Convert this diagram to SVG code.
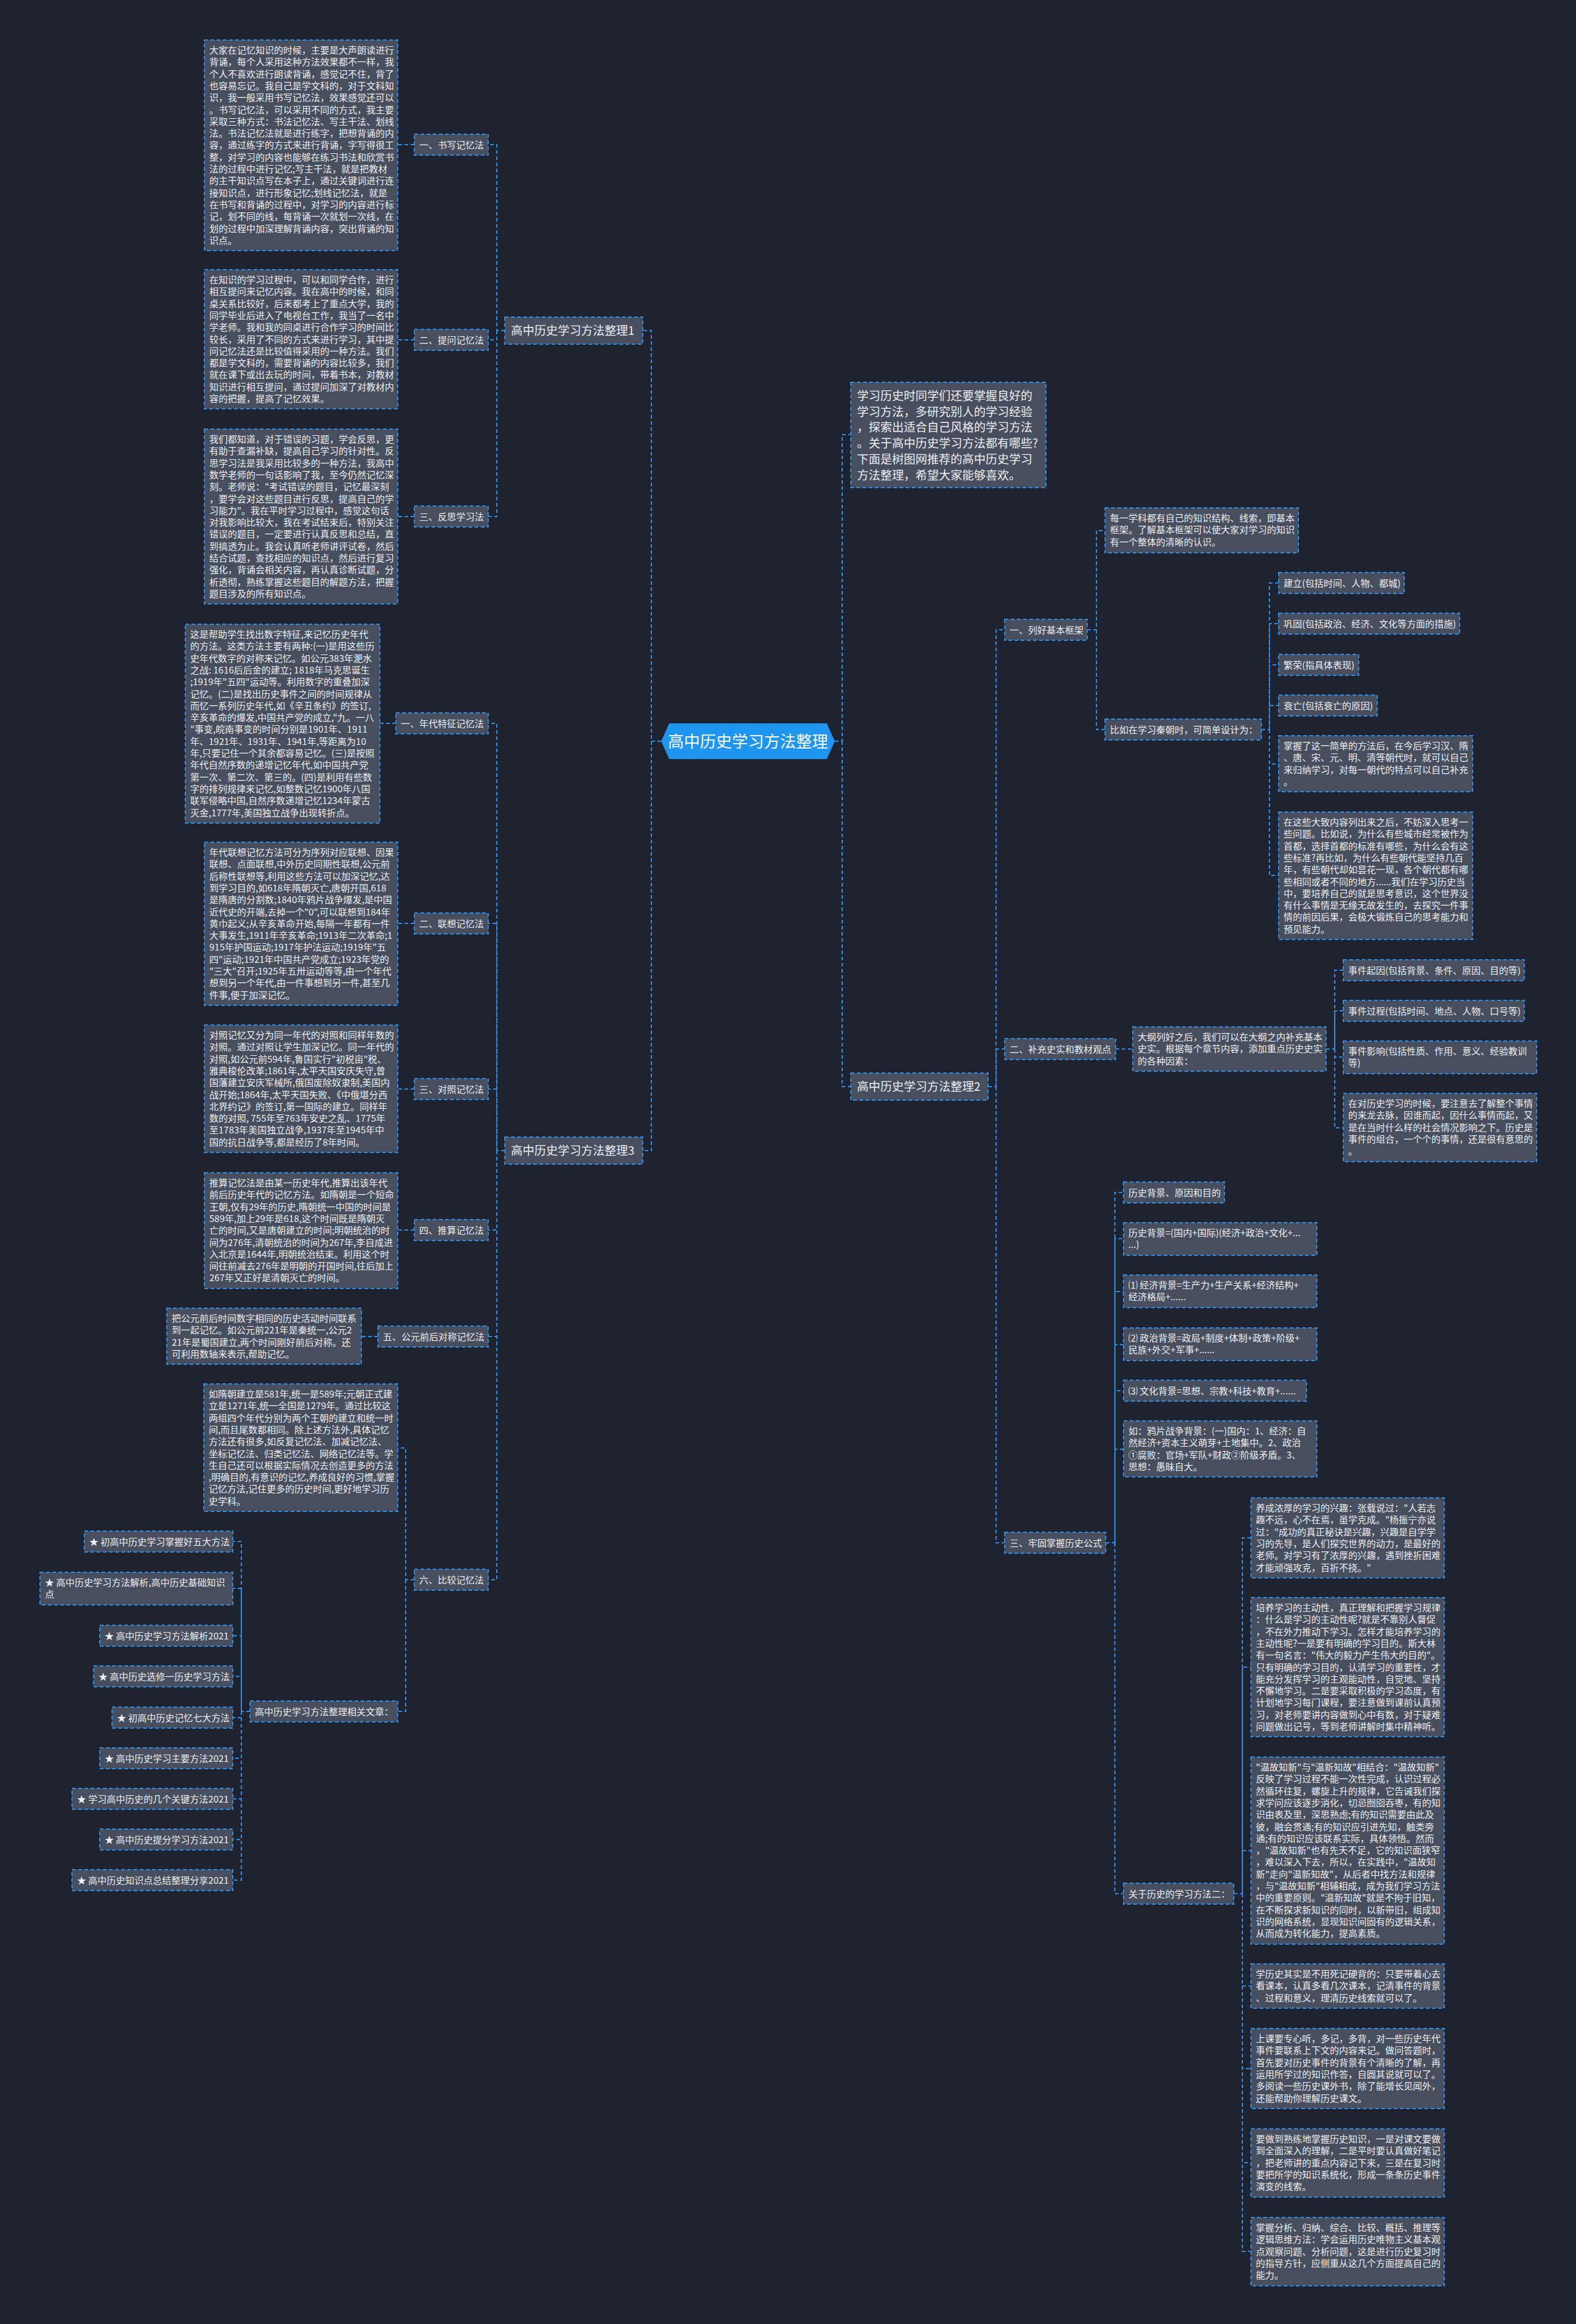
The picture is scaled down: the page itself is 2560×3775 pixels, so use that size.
<svg xmlns="http://www.w3.org/2000/svg" width="2560" height="3775" viewBox="0 0 2560 3775">
<style>
.bg{fill:#1f2330}
.n{fill:#474f5f;stroke:#2b8de4;stroke-width:2;stroke-dasharray:6 4}
.t{font-family:"Noto Sans CJK SC","Microsoft YaHei",sans-serif;font-size:15px;fill:#eef0f3}
.tb{font-family:"Noto Sans CJK SC","Microsoft YaHei",sans-serif;font-size:19px;fill:#eef0f3}
.tc{font-family:"Noto Sans CJK SC","Microsoft YaHei",sans-serif;font-size:26px;fill:#ffffff}
.c{fill:none;stroke:#2b8de4;stroke-width:2;stroke-dasharray:6 4}
</style>
<rect class="bg" x="0" y="0" width="2560" height="3775"/>
<g id="connectors">
<path class="c" d="M1074 1204 H1058 V537 H1044"/>
<path class="c" d="M1058 1204 V1869 H1044"/>
<path class="c" d="M1356 1204 H1368 V706 H1382"/>
<path class="c" d="M1368 1204 V1765 H1382"/>
<path class="c" d="M820 537 H807 V235 H793"/>
<path class="c" d="M807 537 V552 H793"/>
<path class="c" d="M807 537 V839 H793"/>
<path class="c" d="M673 235 H646"/>
<path class="c" d="M673 552 H646"/>
<path class="c" d="M673 839 H646"/>
<path class="c" d="M820 1869 H807 V1175 H793"/>
<path class="c" d="M807 1869 V1500 H793"/>
<path class="c" d="M807 1869 V1769 H793"/>
<path class="c" d="M807 1869 V1998 H793"/>
<path class="c" d="M807 1869 V2171 H793"/>
<path class="c" d="M807 1869 V2566 H793"/>
<path class="c" d="M643 1175 H617"/>
<path class="c" d="M673 1500 H646"/>
<path class="c" d="M673 1769 H646"/>
<path class="c" d="M673 1998 H646"/>
<path class="c" d="M614 2171 H587"/>
<path class="c" d="M673 2566 H659 V2352 H646"/>
<path class="c" d="M659 2566 V2780 H646"/>
<path class="c" d="M406 2780 H392 V2504 H378"/>
<path class="c" d="M392 2780 V2580 H378"/>
<path class="c" d="M392 2780 V2657 H378"/>
<path class="c" d="M392 2780 V2723 H378"/>
<path class="c" d="M392 2780 V2790 H378"/>
<path class="c" d="M392 2780 V2856 H378"/>
<path class="c" d="M392 2780 V2922 H378"/>
<path class="c" d="M392 2780 V2988 H378"/>
<path class="c" d="M392 2780 V3054 H378"/>
<path class="c" d="M1605 1765 H1618 V1023 H1632"/>
<path class="c" d="M1618 1765 V1704 H1632"/>
<path class="c" d="M1618 1765 V2506 H1632"/>
<path class="c" d="M1766 1023 H1781 V862 H1795"/>
<path class="c" d="M1781 1023 V1185 H1795"/>
<path class="c" d="M2049 1185 H2062 V947 H2077"/>
<path class="c" d="M2062 1185 V1013 H2077"/>
<path class="c" d="M2062 1185 V1080 H2077"/>
<path class="c" d="M2062 1185 V1146 H2077"/>
<path class="c" d="M2062 1185 V1241 H2077"/>
<path class="c" d="M2062 1185 V1422 H2077"/>
<path class="c" d="M1812 1704 H1840"/>
<path class="c" d="M2154 1704 H2168 V1576 H2182"/>
<path class="c" d="M2168 1704 V1642 H2182"/>
<path class="c" d="M2168 1704 V1717 H2182"/>
<path class="c" d="M2168 1704 V1832 H2182"/>
<path class="c" d="M1796 2506 H1811 V1937 H1825"/>
<path class="c" d="M1811 2506 V2012 H1825"/>
<path class="c" d="M1811 2506 V2098 H1825"/>
<path class="c" d="M1811 2506 V2184 H1825"/>
<path class="c" d="M1811 2506 V2259 H1825"/>
<path class="c" d="M1811 2506 V2354 H1825"/>
<path class="c" d="M1811 2506 V3076 H1825"/>
<path class="c" d="M2004 3076 H2018 V2498 H2032"/>
<path class="c" d="M2018 3076 V2708 H2032"/>
<path class="c" d="M2018 3076 V3006 H2032"/>
<path class="c" d="M2018 3076 V3226 H2032"/>
<path class="c" d="M2018 3076 V3360 H2032"/>
<path class="c" d="M2018 3076 V3513 H2032"/>
<path class="c" d="M2018 3076 V3657 H2032"/>
</g>

<g id="n-center">
<polygon points="1074,1204 1087,1175 1343,1175 1356,1204 1343,1233 1087,1233" fill="#1e95ef"/>
<text class="tc" x="1215" y="1214" text-anchor="middle">高中历史学习方法整理</text>
</g>

<g id="n-intro">
<rect class="n" x="1382" y="621" width="317" height="171"/>
<text class="tb" x="1392" y="650"><tspan x="1392" dy="0">学习历史时同学们还要掌握良好的</tspan><tspan x="1392" dy="25.7">学习方法，多研究别人的学习经验</tspan><tspan x="1392" dy="25.7">，探索出适合自己风格的学习方法</tspan><tspan x="1392" dy="25.7">。关于高中历史学习方法都有哪些?</tspan><tspan x="1392" dy="25.7">下面是树图网推荐的高中历史学习</tspan><tspan x="1392" dy="25.7">方法整理，希望大家能够喜欢。</tspan></text>
</g>

<g id="n-b1"><rect class="n" x="820" y="515" width="224" height="44"/><text class="tb" x="830" y="544">高中历史学习方法整理1</text></g>
<g id="n-b2"><rect class="n" x="1382" y="1743" width="223" height="44"/><text class="tb" x="1392" y="1772">高中历史学习方法整理2</text></g>
<g id="n-b3"><rect class="n" x="820" y="1847" width="224" height="44"/><text class="tb" x="830" y="1876">高中历史学习方法整理3</text></g>

<g id="n-l1-1"><rect class="n" x="673" y="218" width="120" height="34"/><text class="t" x="681" y="240.5">一、书写记忆法</text></g>
<g id="n-l1-2"><rect class="n" x="673" y="535" width="120" height="34"/><text class="t" x="681" y="557.5">二、提问记忆法</text></g>
<g id="n-l1-3"><rect class="n" x="673" y="822" width="120" height="34"/><text class="t" x="681" y="844.5">三、反思学习法</text></g>

<g id="n-l1-1t">
<rect class="n" x="332" y="65" width="314" height="342"/>
<text class="t" x="340" y="87"><tspan x="340" dy="0">大家在记忆知识的时候，主要是大声朗读进行</tspan><tspan x="340" dy="19.3">背诵，每个人采用这种方法效果都不一样，我</tspan><tspan x="340" dy="19.3">个人不喜欢进行朗读背诵，感觉记不住，背了</tspan><tspan x="340" dy="19.3">也容易忘记。我自己是学文科的，对于文科知</tspan><tspan x="340" dy="19.3">识，我一般采用书写记忆法，效果感觉还可以</tspan><tspan x="340" dy="19.3">。书写记忆法，可以采用不同的方式，我主要</tspan><tspan x="340" dy="19.3">采取三种方式：书法记忆法、写主干法、划线</tspan><tspan x="340" dy="19.3">法。书法记忆法就是进行练字，把想背诵的内</tspan><tspan x="340" dy="19.3">容，通过练字的方式来进行背诵，字写得很工</tspan><tspan x="340" dy="19.3">整，对学习的内容也能够在练习书法和欣赏书</tspan><tspan x="340" dy="19.3">法的过程中进行记忆;写主干法，就是把教材</tspan><tspan x="340" dy="19.3">的主干知识点写在本子上，通过关键词进行连</tspan><tspan x="340" dy="19.3">接知识点，进行形象记忆;划线记忆法，就是</tspan><tspan x="340" dy="19.3">在书写和背诵的过程中，对学习的内容进行标</tspan><tspan x="340" dy="19.3">记，划不同的线，每背诵一次就划一次线，在</tspan><tspan x="340" dy="19.3">划的过程中加深理解背诵内容，突出背诵的知</tspan><tspan x="340" dy="19.3">识点。</tspan></text>
</g>

<g id="n-l1-2t">
<rect class="n" x="332" y="438" width="314" height="226"/>
<text class="t" x="340" y="460"><tspan x="340" dy="0">在知识的学习过程中，可以和同学合作，进行</tspan><tspan x="340" dy="19.3">相互提问来记忆内容。我在高中的时候，和同</tspan><tspan x="340" dy="19.3">桌关系比较好，后来都考上了重点大学，我的</tspan><tspan x="340" dy="19.3">同学毕业后进入了电视台工作，我当了一名中</tspan><tspan x="340" dy="19.3">学老师。我和我的同桌进行合作学习的时间比</tspan><tspan x="340" dy="19.3">较长，采用了不同的方式来进行学习，其中提</tspan><tspan x="340" dy="19.3">问记忆法还是比较值得采用的一种方法。我们</tspan><tspan x="340" dy="19.3">都是学文科的，需要背诵的内容比较多，我们</tspan><tspan x="340" dy="19.3">就在课下或出去玩的时间，带着书本，对教材</tspan><tspan x="340" dy="19.3">知识进行相互提问，通过提问加深了对教材内</tspan><tspan x="340" dy="19.3">容的把握，提高了记忆效果。</tspan></text>
</g>

<g id="n-l1-3t">
<rect class="n" x="332" y="697" width="314" height="284"/>
<text class="t" x="340" y="719"><tspan x="340" dy="0">我们都知道，对于错误的习题，学会反思，更</tspan><tspan x="340" dy="19.3">有助于查漏补缺，提高自己学习的针对性。反</tspan><tspan x="340" dy="19.3">思学习法是我采用比较多的一种方法，我高中</tspan><tspan x="340" dy="19.3">数学老师的一句话影响了我，至今仍然记忆深</tspan><tspan x="340" dy="19.3">刻。老师说："考试错误的题目，记忆最深刻</tspan><tspan x="340" dy="19.3">，要学会对这些题目进行反思，提高自己的学</tspan><tspan x="340" dy="19.3">习能力"。我在平时学习过程中，感觉这句话</tspan><tspan x="340" dy="19.3">对我影响比较大，我在考试结束后，特别关注</tspan><tspan x="340" dy="19.3">错误的题目，一定要进行认真反思和总结，直</tspan><tspan x="340" dy="19.3">到搞透为止。我会认真听老师讲评试卷，然后</tspan><tspan x="340" dy="19.3">结合试题，查找相应的知识点，然后进行复习</tspan><tspan x="340" dy="19.3">强化，背诵会相关内容，再认真诊断试题，分</tspan><tspan x="340" dy="19.3">析透彻，熟练掌握这些题目的解题方法，把握</tspan><tspan x="340" dy="19.3">题目涉及的所有知识点。</tspan></text>
</g>

<g id="n-l3-1"><rect class="n" x="643" y="1158" width="150" height="34"/><text class="t" x="651" y="1180.5">一、年代特征记忆法</text></g>
<g id="n-l3-2"><rect class="n" x="673" y="1483" width="120" height="34"/><text class="t" x="681" y="1505.5">二、联想记忆法</text></g>
<g id="n-l3-3"><rect class="n" x="673" y="1752" width="120" height="34"/><text class="t" x="681" y="1774.5">三、对照记忆法</text></g>
<g id="n-l3-4"><rect class="n" x="673" y="1981" width="120" height="34"/><text class="t" x="681" y="2003.5">四、推算记忆法</text></g>
<g id="n-l3-5"><rect class="n" x="614" y="2154" width="179" height="34"/><text class="t" x="622" y="2176.5">五、公元前后对称记忆法</text></g>
<g id="n-l3-6"><rect class="n" x="673" y="2549" width="120" height="34"/><text class="t" x="681" y="2571.5">六、比较记忆法</text></g>

<g id="n-l3-1t">
<rect class="n" x="301" y="1014" width="316" height="323"/>
<text class="t" x="309" y="1036"><tspan x="309" dy="0">这是帮助学生找出数字特征,来记忆历史年代</tspan><tspan x="309" dy="19.3">的方法。这类方法主要有两种:(一)是用这些历</tspan><tspan x="309" dy="19.3">史年代数字的对称来记忆。如公元383年淝水</tspan><tspan x="309" dy="19.3">之战: 1616后后金的建立; 1818年马克思诞生</tspan><tspan x="309" dy="19.3">;1919年"五四"运动等。利用数字的重叠加深</tspan><tspan x="309" dy="19.3">记忆。(二)是找出历史事件之间的时间规律从</tspan><tspan x="309" dy="19.3">而忆一系列历史年代,如《辛丑条约》的签订,</tspan><tspan x="309" dy="19.3">辛亥革命的爆发,中国共产党的成立,"九。一八</tspan><tspan x="309" dy="19.3">"事变,皖南事变的时间分别是1901年、1911</tspan><tspan x="309" dy="19.3">年、1921年、1931年、1941年,等距离为10</tspan><tspan x="309" dy="19.3">年,只要记住一个其余都容易记忆。(三)是按照</tspan><tspan x="309" dy="19.3">年代自然序数的递增记忆年代,如中国共产党</tspan><tspan x="309" dy="19.3">第一次、第二次、第三的。(四)是利用有些数</tspan><tspan x="309" dy="19.3">字的排列规律来记忆,如整数记忆1900年八国</tspan><tspan x="309" dy="19.3">联军侵略中国,自然序数递增记忆1234年蒙古</tspan><tspan x="309" dy="19.3">灭金,1777年,美国独立战争出现转折点。</tspan></text>
</g>

<g id="n-l3-2t">
<rect class="n" x="332" y="1368" width="314" height="265"/>
<text class="t" x="340" y="1390"><tspan x="340" dy="0">年代联想记忆方法可分为序列对应联想、因果</tspan><tspan x="340" dy="19.3">联想、点面联想,中外历史同期性联想,公元前</tspan><tspan x="340" dy="19.3">后称性联想等,利用这些方法可以加深记忆,达</tspan><tspan x="340" dy="19.3">到学习目的,如618年隋朝灭亡,唐朝开国,618</tspan><tspan x="340" dy="19.3">是隋唐的分割数;1840年鸦片战争爆发,是中国</tspan><tspan x="340" dy="19.3">近代史的开端,去掉一个"0",可以联想到184年</tspan><tspan x="340" dy="19.3">黄巾起义;从辛亥革命开始,每隔一年都有一件</tspan><tspan x="340" dy="19.3">大事发生,1911年辛亥革命;1913年二次革命;1</tspan><tspan x="340" dy="19.3">915年护国运动;1917年护法运动;1919年"五</tspan><tspan x="340" dy="19.3">四"运动;1921年中国共产党成立;1923年党的</tspan><tspan x="340" dy="19.3">"三大"召开;1925年五卅运动等等,由一个年代</tspan><tspan x="340" dy="19.3">想到另一个年代,由一件事想到另一件,甚至几</tspan><tspan x="340" dy="19.3">件事,便于加深记忆。</tspan></text>
</g>

<g id="n-l3-3t">
<rect class="n" x="332" y="1665" width="314" height="207"/>
<text class="t" x="340" y="1687"><tspan x="340" dy="0">对照记忆又分为同一年代的对照和同样年数的</tspan><tspan x="340" dy="19.3">对照。通过对照让学生加深记忆。同一年代的</tspan><tspan x="340" dy="19.3">对照,如公元前594年,鲁国实行"初税亩"税、</tspan><tspan x="340" dy="19.3">雅典梭伦改革;1861年,太平天国安庆失守,曾</tspan><tspan x="340" dy="19.3">国藩建立安庆军械所,俄国废除奴隶制,美国内</tspan><tspan x="340" dy="19.3">战开始;1864年,太平天国失败、《中俄堪分西</tspan><tspan x="340" dy="19.3">北界约记》的签订,第一国际的建立。同样年</tspan><tspan x="340" dy="19.3">数的对照, 755年至763年安史之乱、1775年</tspan><tspan x="340" dy="19.3">至1783年美国独立战争,1937年至1945年中</tspan><tspan x="340" dy="19.3">国的抗日战争等,都是经历了8年时间。</tspan></text>
</g>

<g id="n-l3-4t">
<rect class="n" x="332" y="1905" width="314" height="188"/>
<text class="t" x="340" y="1927"><tspan x="340" dy="0">推算记忆法是由某一历史年代,推算出该年代</tspan><tspan x="340" dy="19.3">前后历史年代的记忆方法。如隋朝是一个短命</tspan><tspan x="340" dy="19.3">王朝,仅有29年的历史,隋朝统一中国的时间是</tspan><tspan x="340" dy="19.3">589年,加上29年是618,这个时间既是隋朝灭</tspan><tspan x="340" dy="19.3">亡的时间,又是唐朝建立的时间;明朝统治的时</tspan><tspan x="340" dy="19.3">间为276年,清朝统治的时间为267年,李自成进</tspan><tspan x="340" dy="19.3">入北京是1644年,明朝统治结束。利用这个时</tspan><tspan x="340" dy="19.3">间往前减去276年是明朝的开国时间,往后加上</tspan><tspan x="340" dy="19.3">267年又正好是清朝灭亡的时间。</tspan></text>
</g>

<g id="n-l3-5t">
<rect class="n" x="271" y="2125" width="316" height="91"/>
<text class="t" x="279" y="2147"><tspan x="279" dy="0">把公元前后时间数字相同的历史活动时间联系</tspan><tspan x="279" dy="19.3">到一起记忆。如公元前221年是秦统一,公元2</tspan><tspan x="279" dy="19.3">21年是蜀国建立,两个时间刚好前后对称。还</tspan><tspan x="279" dy="19.3">可利用数轴来表示,帮助记忆。</tspan></text>
</g>

<g id="n-l3-6t">
<rect class="n" x="331" y="2248" width="315" height="207"/>
<text class="t" x="339" y="2270"><tspan x="339" dy="0">如隋朝建立是581年,统一是589年;元朝正式建</tspan><tspan x="339" dy="19.3">立是1271年,统一全国是1279年。通过比较这</tspan><tspan x="339" dy="19.3">两组四个年代分别为两个王朝的建立和统一时</tspan><tspan x="339" dy="19.3">间,而且尾数都相同。除上述方法外,具体记忆</tspan><tspan x="339" dy="19.3">方法还有很多,如反复记忆法、加减记忆法、</tspan><tspan x="339" dy="19.3">坐标记忆法、归类记忆法、网络记忆法等。学</tspan><tspan x="339" dy="19.3">生自己还可以根据实际情况去创造更多的方法</tspan><tspan x="339" dy="19.3">,明确目的,有意识的记忆,养成良好的习惯,掌握</tspan><tspan x="339" dy="19.3">记忆方法,记住更多的历史时间,更好地学习历</tspan><tspan x="339" dy="19.3">史学科。</tspan></text>
</g>

<g id="n-rel"><rect class="n" x="406" y="2763" width="240" height="34"/><text class="t" x="414" y="2785.5">高中历史学习方法整理相关文章：</text></g>

<g id="n-s1"><rect class="n" x="137" y="2487" width="241" height="34"/><text class="t" x="145" y="2509.5">★ 初高中历史学习掌握好五大方法</text></g>
<g id="n-s2"><rect class="n" x="65" y="2554" width="313" height="53"/><text class="t" x="73" y="2576"><tspan x="73" dy="0">★ 高中历史学习方法解析,高中历史基础知识</tspan><tspan x="73" dy="19.3">点</tspan></text></g>
<g id="n-s3"><rect class="n" x="162" y="2640" width="216" height="34"/><text class="t" x="170" y="2662.5">★ 高中历史学习方法解析2021</text></g>
<g id="n-s4"><rect class="n" x="152" y="2706" width="226" height="34"/><text class="t" x="160" y="2728.5">★ 高中历史选修一历史学习方法</text></g>
<g id="n-s5"><rect class="n" x="182" y="2773" width="196" height="34"/><text class="t" x="190" y="2795.5">★ 初高中历史记忆七大方法</text></g>
<g id="n-s6"><rect class="n" x="162" y="2839" width="216" height="34"/><text class="t" x="170" y="2861.5">★ 高中历史学习主要方法2021</text></g>
<g id="n-s7"><rect class="n" x="117" y="2905" width="261" height="34"/><text class="t" x="125" y="2927.5">★ 学习高中历史的几个关键方法2021</text></g>
<g id="n-s8"><rect class="n" x="162" y="2971" width="216" height="34"/><text class="t" x="170" y="2993.5">★ 高中历史提分学习方法2021</text></g>
<g id="n-s9"><rect class="n" x="117" y="3037" width="261" height="34"/><text class="t" x="125" y="3059.5">★ 高中历史知识点总结整理分享2021</text></g>

<g id="n-r1"><rect class="n" x="1632" y="1006" width="134" height="34"/><text class="t" x="1640" y="1028.5">一、列好基本框架</text></g>
<g id="n-r2"><rect class="n" x="1632" y="1687" width="180" height="34"/><text class="t" x="1640" y="1709.5">二、补充史实和教材观点</text></g>
<g id="n-r3"><rect class="n" x="1632" y="2489" width="164" height="34"/><text class="t" x="1640" y="2511.5">三、牢固掌握历史公式</text></g>

<g id="n-r1a">
<rect class="n" x="1795" y="825" width="314" height="73"/>
<text class="t" x="1803" y="847"><tspan x="1803" dy="0">每一学科都有自己的知识结构、线索，即基本</tspan><tspan x="1803" dy="19.3">框架。了解基本框架可以使大家对学习的知识</tspan><tspan x="1803" dy="19.3">有一个整体的清晰的认识。</tspan></text>
</g>
<g id="n-r1b"><rect class="n" x="1795" y="1168" width="254" height="34"/><text class="t" x="1803" y="1190.5">比如在学习秦朝时，可简单设计为：</text></g>
<g id="n-r1b1"><rect class="n" x="2077" y="930" width="204" height="34"/><text class="t" x="2085" y="952.5">建立(包括时间、人物、都城)</text></g>
<g id="n-r1b2"><rect class="n" x="2077" y="996" width="294" height="34"/><text class="t" x="2085" y="1018.5">巩固(包括政治、经济、文化等方面的措施)</text></g>
<g id="n-r1b3"><rect class="n" x="2077" y="1063" width="130" height="34"/><text class="t" x="2085" y="1085.5">繁荣(指具体表现)</text></g>
<g id="n-r1b4"><rect class="n" x="2077" y="1129" width="160" height="34"/><text class="t" x="2085" y="1151.5">衰亡(包括衰亡的原因)</text></g>
<g id="n-r1b5">
<rect class="n" x="2077" y="1195" width="315" height="91"/>
<text class="t" x="2085" y="1217"><tspan x="2085" dy="0">掌握了这一简单的方法后，在今后学习汉、隋</tspan><tspan x="2085" dy="19.3">、唐、宋、元、明、清等朝代时，就可以自己</tspan><tspan x="2085" dy="19.3">来归纳学习，对每一朝代的特点可以自己补充</tspan><tspan x="2085" dy="19.3">。</tspan></text>
</g>
<g id="n-r1b6">
<rect class="n" x="2077" y="1319" width="315" height="207"/>
<text class="t" x="2085" y="1341"><tspan x="2085" dy="0">在这些大致内容列出来之后，不妨深入思考一</tspan><tspan x="2085" dy="19.3">些问题。比如说，为什么有些城市经常被作为</tspan><tspan x="2085" dy="19.3">首都，选择首都的标准有哪些，为什么会有这</tspan><tspan x="2085" dy="19.3">些标准?再比如，为什么有些朝代能坚持几百</tspan><tspan x="2085" dy="19.3">年，有些朝代却如昙花一现，各个朝代都有哪</tspan><tspan x="2085" dy="19.3">些相同或者不同的地方......我们在学习历史当</tspan><tspan x="2085" dy="19.3">中，要培养自己的就是思考意识，这个世界没</tspan><tspan x="2085" dy="19.3">有什么事情是无缘无故发生的，去探究一件事</tspan><tspan x="2085" dy="19.3">情的前因后果，会极大锻炼自己的思考能力和</tspan><tspan x="2085" dy="19.3">预见能力。</tspan></text>
</g>

<g id="n-r2a">
<rect class="n" x="1840" y="1668" width="314" height="72"/>
<text class="t" x="1848" y="1690"><tspan x="1848" dy="0">大纲列好之后，我们可以在大纲之内补充基本</tspan><tspan x="1848" dy="19.3">史实。根据每个章节内容，添加重点历史史实</tspan><tspan x="1848" dy="19.3">的各种因素：</tspan></text>
</g>
<g id="n-r2a1"><rect class="n" x="2182" y="1559" width="294" height="34"/><text class="t" x="2190" y="1581.5">事件起因(包括背景、条件、原因、目的等)</text></g>
<g id="n-r2a2"><rect class="n" x="2182" y="1625" width="294" height="34"/><text class="t" x="2190" y="1647.5">事件过程(包括时间、地点、人物、口号等)</text></g>
<g id="n-r2a3">
<rect class="n" x="2182" y="1691" width="314" height="53"/>
<text class="t" x="2190" y="1713"><tspan x="2190" dy="0">事件影响(包括性质、作用、意义、经验教训</tspan><tspan x="2190" dy="19.3">等)</tspan></text>
</g>
<g id="n-r2a4">
<rect class="n" x="2182" y="1776" width="314" height="111"/>
<text class="t" x="2190" y="1798"><tspan x="2190" dy="0">在对历史学习的时候，要注意去了解整个事情</tspan><tspan x="2190" dy="19.3">的来龙去脉，因谁而起，因什么事情而起，又</tspan><tspan x="2190" dy="19.3">是在当时什么样的社会情况影响之下。历史是</tspan><tspan x="2190" dy="19.3">事件的组合，一个个的事情，还是很有意思的</tspan><tspan x="2190" dy="19.3">。</tspan></text>
</g>

<g id="n-r3a"><rect class="n" x="1825" y="1920" width="164" height="34"/><text class="t" x="1833" y="1942.5">历史背景、原因和目的</text></g>
<g id="n-r3b">
<rect class="n" x="1825" y="1986" width="314" height="53"/>
<text class="t" x="1833" y="2008"><tspan x="1833" dy="0">历史背景=(国内+国际)(经济+政治+文化+...</tspan><tspan x="1833" dy="19.3">...)</tspan></text>
</g>
<g id="n-r3c">
<rect class="n" x="1825" y="2071" width="314" height="53"/>
<text class="t" x="1833" y="2093"><tspan x="1833" dy="0">⑴ 经济背景=生产力+生产关系+经济结构+</tspan><tspan x="1833" dy="19.3">经济格局+......</tspan></text>
</g>
<g id="n-r3d">
<rect class="n" x="1825" y="2157" width="314" height="53"/>
<text class="t" x="1833" y="2179"><tspan x="1833" dy="0">⑵ 政治背景=政局+制度+体制+政策+阶级+</tspan><tspan x="1833" dy="19.3">民族+外交+军事+......</tspan></text>
</g>
<g id="n-r3e"><rect class="n" x="1825" y="2242" width="297" height="34"/><text class="t" x="1833" y="2264.5">⑶ 文化背景=思想、宗教+科技+教育+......</text></g>
<g id="n-r3f">
<rect class="n" x="1825" y="2308" width="314" height="91"/>
<text class="t" x="1833" y="2330"><tspan x="1833" dy="0">如：鸦片战争背景：(一)国内：1、经济：自</tspan><tspan x="1833" dy="19.3">然经济+资本主义萌芽+土地集中。2、政治</tspan><tspan x="1833" dy="19.3">①腐败：官场+军队+财政②阶级矛盾。3、</tspan><tspan x="1833" dy="19.3">思想：愚昧自大。</tspan></text>
</g>
<g id="n-r3g"><rect class="n" x="1825" y="3059" width="179" height="34"/><text class="t" x="1833" y="3081.5">关于历史的学习方法二：</text></g>

<g id="n-r3g1">
<rect class="n" x="2032" y="2433" width="314" height="130"/>
<text class="t" x="2040" y="2455"><tspan x="2040" dy="0">养成浓厚的学习的兴趣：张载说过："人若志</tspan><tspan x="2040" dy="19.3">趣不远，心不在焉，虽学克成。"杨振宁亦说</tspan><tspan x="2040" dy="19.3">过："成功的真正秘诀是兴趣，兴趣是自学学</tspan><tspan x="2040" dy="19.3">习的先导，是人们探究世界的动力，是最好的</tspan><tspan x="2040" dy="19.3">老师。对学习有了浓厚的兴趣，遇到挫折困难</tspan><tspan x="2040" dy="19.3">才能顽强攻克，百折不挠。"</tspan></text>
</g>
<g id="n-r3g2">
<rect class="n" x="2032" y="2595" width="314" height="226"/>
<text class="t" x="2040" y="2617"><tspan x="2040" dy="0">培养学习的主动性，真正理解和把握学习规律</tspan><tspan x="2040" dy="19.3">：什么是学习的主动性呢?就是不靠别人督促</tspan><tspan x="2040" dy="19.3">，不在外力推动下学习。怎样才能培养学习的</tspan><tspan x="2040" dy="19.3">主动性呢?一是要有明确的学习目的。斯大林</tspan><tspan x="2040" dy="19.3">有一句名言："伟大的毅力产生伟大的目的"。</tspan><tspan x="2040" dy="19.3">只有明确的学习目的，认清学习的重要性，才</tspan><tspan x="2040" dy="19.3">能充分发挥学习的主观能动性，自觉地、坚持</tspan><tspan x="2040" dy="19.3">不懈地学习。二是要采取积极的学习态度，有</tspan><tspan x="2040" dy="19.3">计划地学习每门课程，要注意做到课前认真预</tspan><tspan x="2040" dy="19.3">习，对老师要讲内容做到心中有数，对于疑难</tspan><tspan x="2040" dy="19.3">问题做出记号，等到老师讲解时集中精神听。</tspan></text>
</g>
<g id="n-r3g3">
<rect class="n" x="2032" y="2854" width="314" height="304"/>
<text class="t" x="2040" y="2876"><tspan x="2040" dy="0">"温故知新"与"温新知故"相结合："温故知新"</tspan><tspan x="2040" dy="19.3">反映了学习过程不能一次性完成，认识过程必</tspan><tspan x="2040" dy="19.3">然循环往复，螺旋上升的规律，它告诫我们探</tspan><tspan x="2040" dy="19.3">求学问应该逐步消化，切忌囫囵吞枣，有的知</tspan><tspan x="2040" dy="19.3">识由表及里，深思熟虑;有的知识需要由此及</tspan><tspan x="2040" dy="19.3">彼，融会贯通;有的知识应引进先知，触类旁</tspan><tspan x="2040" dy="19.3">通;有的知识应该联系实际，具体领悟。然而</tspan><tspan x="2040" dy="19.3">，"温故知新"也有先天不足，它的知识面狭窄</tspan><tspan x="2040" dy="19.3">，难以深入下去，所以，在实践中，"温故知</tspan><tspan x="2040" dy="19.3">新"走向"温新知故"，从后者中找方法和规律</tspan><tspan x="2040" dy="19.3">，与"温故知新"相辅相成，成为我们学习方法</tspan><tspan x="2040" dy="19.3">中的重要原则。"温新知故"就是不拘于旧知，</tspan><tspan x="2040" dy="19.3">在不断探求新知识的同时，以新带旧，组成知</tspan><tspan x="2040" dy="19.3">识的网络系统，显现知识间固有的逻辑关系，</tspan><tspan x="2040" dy="19.3">从而成为转化能力，提高素质。</tspan></text>
</g>
<g id="n-r3g4">
<rect class="n" x="2032" y="3190" width="314" height="72"/>
<text class="t" x="2040" y="3212"><tspan x="2040" dy="0">学历史其实是不用死记硬背的：只要带着心去</tspan><tspan x="2040" dy="19.3">看课本，认真多看几次课本，记清事件的背景</tspan><tspan x="2040" dy="19.3">、过程和意义，理清历史线索就可以了。</tspan></text>
</g>
<g id="n-r3g5">
<rect class="n" x="2032" y="3295" width="314" height="130"/>
<text class="t" x="2040" y="3317"><tspan x="2040" dy="0">上课要专心听，多记，多背，对一些历史年代</tspan><tspan x="2040" dy="19.3">事件要联系上下文的内容来记。做问答题时，</tspan><tspan x="2040" dy="19.3">首先要对历史事件的背景有个清晰的了解，再</tspan><tspan x="2040" dy="19.3">运用所学过的知识作答，自圆其说就可以了。</tspan><tspan x="2040" dy="19.3">多阅读一些历史课外书，除了能增长见闻外，</tspan><tspan x="2040" dy="19.3">还能帮助你理解历史课文。</tspan></text>
</g>
<g id="n-r3g6">
<rect class="n" x="2032" y="3458" width="314" height="111"/>
<text class="t" x="2040" y="3480"><tspan x="2040" dy="0">要做到熟练地掌握历史知识，一是对课文要做</tspan><tspan x="2040" dy="19.3">到全面深入的理解，二是平时要认真做好笔记</tspan><tspan x="2040" dy="19.3">，把老师讲的重点内容记下来，三是在复习时</tspan><tspan x="2040" dy="19.3">要把所学的知识系统化，形成一条条历史事件</tspan><tspan x="2040" dy="19.3">演变的线索。</tspan></text>
</g>
<g id="n-r3g7">
<rect class="n" x="2032" y="3602" width="314" height="111"/>
<text class="t" x="2040" y="3624"><tspan x="2040" dy="0">掌握分析、归纳、综合、比较、概括、推理等</tspan><tspan x="2040" dy="19.3">逻辑思维方法：学会运用历史唯物主义基本观</tspan><tspan x="2040" dy="19.3">点观察问题、分析问题，这是进行历史复习时</tspan><tspan x="2040" dy="19.3">的指导方针，应侧重从这几个方面提高自己的</tspan><tspan x="2040" dy="19.3">能力。</tspan></text>
</g>
</svg>
